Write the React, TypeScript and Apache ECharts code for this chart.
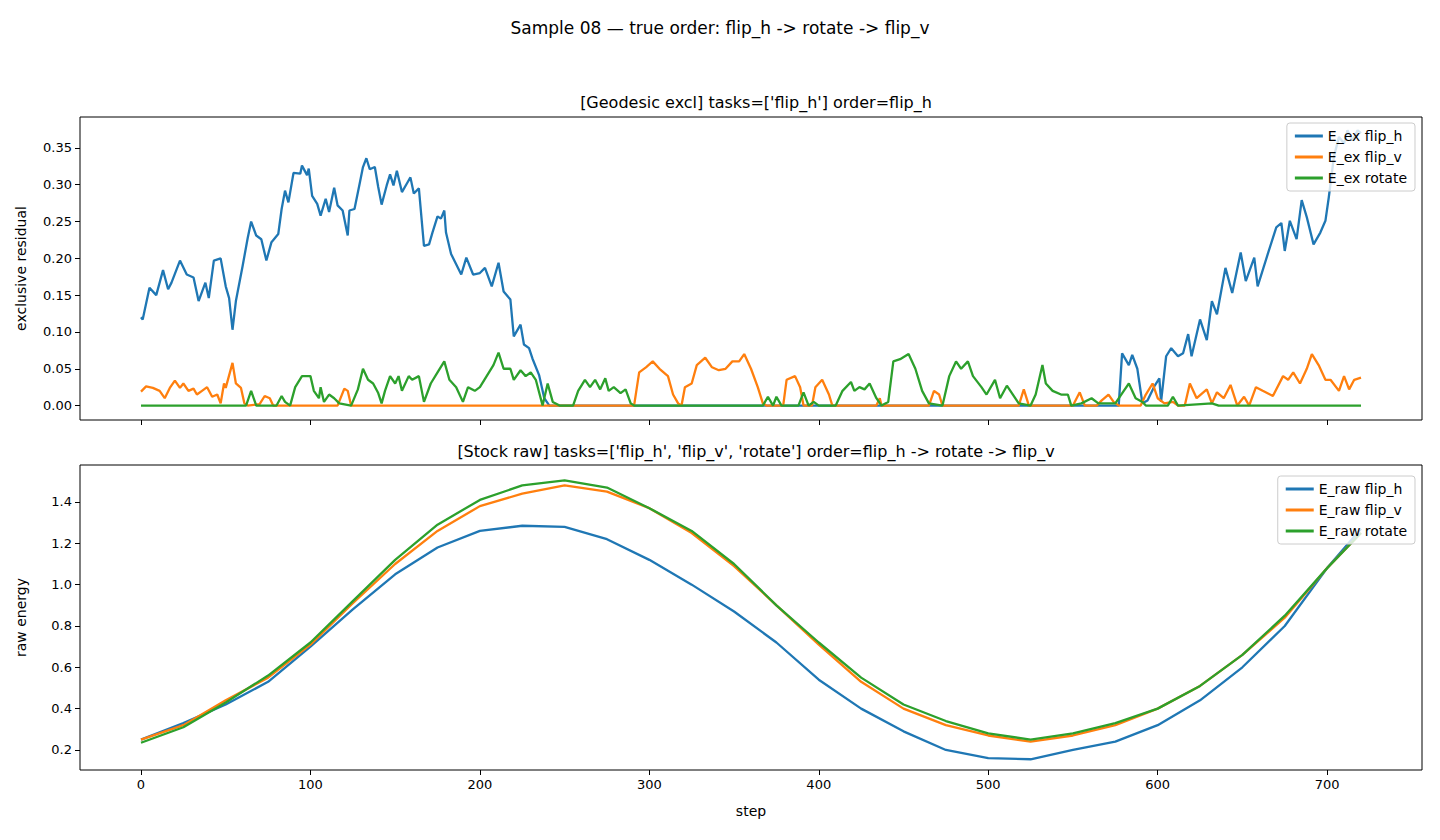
import React, { useEffect, useRef } from "react";
import * as echarts from "echarts";

const xTicks = [0, 100, 200, 300, 400, 500, 600, 700];
const topYTicks = [0, 0.05, 0.1, 0.15, 0.2, 0.25, 0.3, 0.35];
const botYTicks = [0.2, 0.4, 0.6, 0.8, 1.0, 1.2, 1.4];

const exFlipH: [number, number][] = [
  [0,0.12],[1,0.117],[5,0.16],[9,0.15],[13,0.184],[16,0.158],[18,0.167],[23,0.197],[27,0.178],[31,0.174],[34,0.142],[38,0.167],[40,0.146],[43,0.197],[47,0.2],[50,0.162],[52,0.146],[54,0.103],[56,0.142],[60,0.19],[63,0.228],[65,0.25],[68,0.231],[71,0.226],[74,0.197],[77,0.222],[81,0.233],[83,0.267],[85,0.292],[87,0.276],[90,0.316],[94,0.315],[95,0.326],[98,0.313],[99,0.322],[101,0.285],[104,0.274],[106,0.258],[109,0.281],[111,0.263],[114,0.296],[116,0.272],[119,0.265],[122,0.231],[123,0.265],[126,0.267],[129,0.301],[131,0.324],[133,0.336],[135,0.321],[138,0.324],[140,0.297],[142,0.273],[145,0.299],[147,0.314],[149,0.299],[151,0.319],[154,0.29],[157,0.302],[159,0.31],[161,0.288],[164,0.295],[167,0.217],[170,0.219],[172,0.235],[175,0.257],[177,0.254],[179,0.265],[180,0.235],[183,0.206],[186,0.192],[189,0.178],[192,0.201],[196,0.178],[200,0.18],[203,0.187],[207,0.162],[211,0.194],[214,0.155],[218,0.144],[220,0.094],[224,0.11],[226,0.083],[229,0.078],[231,0.064],[235,0.041],[238,0.01],[241,0],[577,0],[579,0.071],[583,0.055],[585,0.069],[588,0.05],[591,0.003],[594,0.007],[598,0.026],[601,0.037],[602,0.005],[605,0.067],[608,0.078],[612,0.067],[615,0.071],[618,0.097],[620,0.067],[625,0.117],[629,0.089],[632,0.142],[635,0.124],[640,0.187],[644,0.153],[649,0.208],[652,0.169],[657,0.201],[659,0.162],[665,0.206],[670,0.242],[673,0.248],[675,0.21],[678,0.251],[682,0.226],[685,0.279],[688,0.256],[692,0.219],[696,0.235],[699,0.251],[701,0.283],[704,0.338],[707,0.365],[710,0.356],[712,0.374],[715,0.36],[718,0.374],[720,0.37]
];
const exFlipV: [number, number][] = [
  [0,0.019],[3,0.026],[7,0.024],[11,0.02],[14,0.01],[17,0.024],[20,0.034],[23,0.024],[25,0.03],[28,0.02],[31,0.023],[33,0.015],[36,0.02],[39,0.025],[42,0.012],[45,0.015],[47,0.003],[49,0.03],[50,0.024],[54,0.058],[56,0.03],[59,0.024],[61,0.003],[63,0],[70,0.002],[73,0.013],[76,0.01],[78,0],[116,0],[120,0.023],[122,0.02],[124,0],[291,0],[294,0.045],[298,0.052],[302,0.06],[306,0.05],[311,0.04],[314,0.015],[317,0.003],[319,0],[321,0.025],[325,0.03],[328,0.055],[333,0.065],[337,0.052],[341,0.048],[345,0.05],[349,0.06],[353,0.06],[356,0.07],[360,0.05],[364,0.025],[367,0.003],[369,0],[379,0],[381,0.035],[386,0.04],[389,0.025],[391,0],[396,0],[398,0.025],[402,0.035],[406,0.015],[408,0],[434,0],[436,0.01],[437,0],[465,0],[468,0.02],[471,0.015],[473,0],[518,0],[521,0.022],[524,0],[550,0],[554,0.018],[557,0],[564,0],[567,0.007],[571,0.015],[574,0.005],[577,0],[590,0],[593,0.015],[597,0.03],[600,0.01],[604,0.003],[609,0.005],[612,0],[616,0],[619,0.03],[623,0.01],[629,0.022],[632,0.003],[635,0.018],[639,0.01],[643,0.028],[647,0],[651,0.012],[654,0],[658,0.025],[662,0.02],[668,0.013],[674,0.04],[677,0.035],[680,0.045],[684,0.03],[688,0.05],[691,0.07],[695,0.055],[699,0.035],[702,0.035],[707,0.02],[710,0.04],[713,0.022],[716,0.035],[720,0.038]
];
const exRotate: [number, number][] = [
  [0,0],[62,0],[65,0.02],[68,0],[80,0],[83,0.013],[85,0.005],[88,0],[91,0.025],[95,0.04],[100,0.04],[102,0.02],[105,0.01],[106,0.025],[108,0.005],[111,0.015],[114,0.01],[117,0.003],[124,0],[128,0.022],[131,0.05],[134,0.035],[137,0.03],[140,0.017],[142,0.003],[144,0.02],[147,0.04],[150,0.03],[152,0.04],[154,0.02],[158,0.04],[160,0.035],[164,0.04],[167,0.005],[171,0.03],[175,0.045],[179,0.06],[182,0.035],[186,0.025],[190,0.005],[193,0.025],[197,0.02],[200,0.025],[204,0.04],[208,0.055],[211,0.072],[214,0.05],[218,0.05],[220,0.035],[224,0.048],[227,0.04],[230,0.045],[233,0.035],[237,0],[240,0.03],[243,0.005],[247,0],[255,0],[258,0.02],[262,0.035],[265,0.025],[268,0.035],[271,0.022],[274,0.037],[276,0.02],[279,0.025],[283,0.017],[286,0.022],[289,0.003],[291,0],[367,0],[370,0.012],[373,0],[375,0.012],[378,0],[388,0],[391,0.018],[394,0],[397,0.005],[400,0],[410,0],[414,0.02],[419,0.032],[421,0.02],[424,0.025],[427,0.022],[430,0.03],[434,0.01],[437,0],[441,0.005],[444,0.06],[448,0.063],[453,0.07],[457,0.05],[461,0.02],[465,0.003],[473,0],[477,0.04],[481,0.06],[484,0.05],[488,0.06],[491,0.04],[496,0.025],[499,0.015],[504,0.035],[507,0.01],[511,0.027],[518,0.003],[525,0],[528,0.015],[532,0.055],[534,0.03],[538,0.02],[543,0.015],[547,0.015],[549,0],[555,0.003],[561,0.01],[565,0.003],[575,0.003],[580,0.02],[583,0.03],[587,0.01],[591,0.005],[593,0],[606,0],[609,0.012],[612,0],[632,0.003],[636,0],[720,0]
];

const rawSteps = [0, 25, 50, 75, 100, 125, 150, 175, 200, 225, 250, 275, 300, 325, 350, 375, 400, 425, 450, 475, 500, 525, 550, 575, 600, 625, 650, 675, 700, 720];
const rawFlipH = [0.25,0.33,0.42,0.53,0.70,0.88,1.05,1.18,1.26,1.285,1.28,1.22,1.12,1.0,0.87,0.72,0.54,0.40,0.29,0.20,0.16,0.155,0.2,0.24,0.32,0.44,0.60,0.80,1.08,1.27];
const rawFlipV = [0.25,0.32,0.44,0.55,0.71,0.91,1.10,1.26,1.38,1.44,1.48,1.45,1.37,1.25,1.09,0.90,0.71,0.53,0.40,0.32,0.27,0.24,0.27,0.32,0.40,0.51,0.66,0.84,1.08,1.25];
const rawRotate = [0.235,0.31,0.43,0.56,0.72,0.92,1.12,1.29,1.41,1.48,1.505,1.47,1.37,1.26,1.10,0.90,0.72,0.55,0.42,0.34,0.28,0.25,0.28,0.33,0.40,0.51,0.66,0.85,1.08,1.25];

const C = ["#1f77b4", "#ff7f0e", "#2ca02c"];
const FONT = "DejaVu Sans";

export default function App() {
  const ref = useRef<HTMLDivElement>(null);
  useEffect(() => {
    document.body.style.margin = "0";
    const chart = echarts.init(ref.current!, null, { renderer: "svg" });
    const zip = (ys: number[]) => rawSteps.map((s, i) => [s, ys[i]]);
    const xAxisBase = (gi: number, showLabels: boolean, name: string) => ({
      type: "value", gridIndex: gi, min: -36, max: 756, position: "bottom",
      name, nameLocation: "middle", nameGap: 34,
      nameTextStyle: { color: "#000", fontSize: 14, fontFamily: FONT },
      splitLine: { show: false },
      axisLine: { show: false, onZero: false },
      axisTick: { show: true, length: 5, lineStyle: { color: "#000" }, customValues: xTicks },
      axisLabel: { show: showLabels, color: "#000", fontSize: 13, fontFamily: FONT, customValues: xTicks },
    });
    const yAxisBase = (gi: number, min: number, max: number, ticks: number[], dec: number, name: string) => ({
      type: "value", gridIndex: gi, min, max, position: "left",
      name, nameLocation: "middle", nameGap: 52,
      nameTextStyle: { color: "#000", fontSize: 14, fontFamily: FONT },
      splitLine: { show: false },
      axisLine: { show: false, onZero: false },
      axisTick: { show: true, length: 5, lineStyle: { color: "#000" }, customValues: ticks },
      axisLabel: { color: "#000", fontSize: 13, fontFamily: FONT, customValues: ticks, formatter: (v: number) => v.toFixed(dec) },
    });
    const line = (name: string, data: any, color: string, xi: number) => ({
      type: "line", name, data, xAxisIndex: xi, yAxisIndex: xi, showSymbol: false, symbol: "none",
      lineStyle: { color, width: 2.3 }, itemStyle: { color }, z: 2,
    });
    const legend = (top: number, names: string[]) => ({
      data: names, orient: "vertical", right: 25, top, itemGap: 7, itemWidth: 28, itemHeight: 3,
      icon: "rect", padding: [6, 8, 6, 8],
      backgroundColor: "rgba(255,255,255,0.8)", borderColor: "#ccc", borderWidth: 1, borderRadius: 3,
      textStyle: { color: "#000", fontSize: 14, fontFamily: FONT }, z: 10,
    });
    chart.setOption({
      animation: false,
      textStyle: { fontFamily: FONT },
      title: [
        { text: "Sample 08 — true order: flip_h -> rotate -> flip_v", left: "center", top: 14, textStyle: { fontSize: 17, fontWeight: "normal", color: "#000", fontFamily: FONT } },
        { text: "[Geodesic excl] tasks=['flip_h'] order=flip_h", left: 751, textAlign: "center", top: 89, textStyle: { fontSize: 16, fontWeight: "normal", color: "#000", fontFamily: FONT } },
        { text: "[Stock raw] tasks=['flip_h', 'flip_v', 'rotate'] order=flip_h -> rotate -> flip_v", left: 751, textAlign: "center", top: 438, textStyle: { fontSize: 16, fontWeight: "normal", color: "#000", fontFamily: FONT } },
      ],
      grid: [
        { left: 80, top: 117, width: 1342, height: 303, show: true, borderColor: "#000", borderWidth: 1, backgroundColor: "transparent" },
        { left: 80, top: 465, width: 1342, height: 305, show: true, borderColor: "#000", borderWidth: 1, backgroundColor: "transparent" },
      ],
      xAxis: [xAxisBase(0, false, ""), xAxisBase(1, true, "step")],
      yAxis: [
        yAxisBase(0, -0.0196, 0.392, topYTicks, 2, "exclusive residual"),
        yAxisBase(1, 0.103, 1.579, botYTicks, 1, "raw energy"),
      ],
      legend: [
        legend(123, ["E_ex flip_h", "E_ex flip_v", "E_ex rotate"]),
        legend(476, ["E_raw flip_h", "E_raw flip_v", "E_raw rotate"]),
      ],
      series: [
        line("E_ex flip_h", exFlipH, C[0], 0),
        line("E_ex flip_v", exFlipV, C[1], 0),
        line("E_ex rotate", exRotate, C[2], 0),
        line("E_raw flip_h", zip(rawFlipH), C[0], 1),
        line("E_raw flip_v", zip(rawFlipV), C[1], 1),
        line("E_raw rotate", zip(rawRotate), C[2], 1),
      ],
    });
    return () => chart.dispose();
  }, []);
  return <div ref={ref} style={{ width: 1440, height: 840 }} />;
}
